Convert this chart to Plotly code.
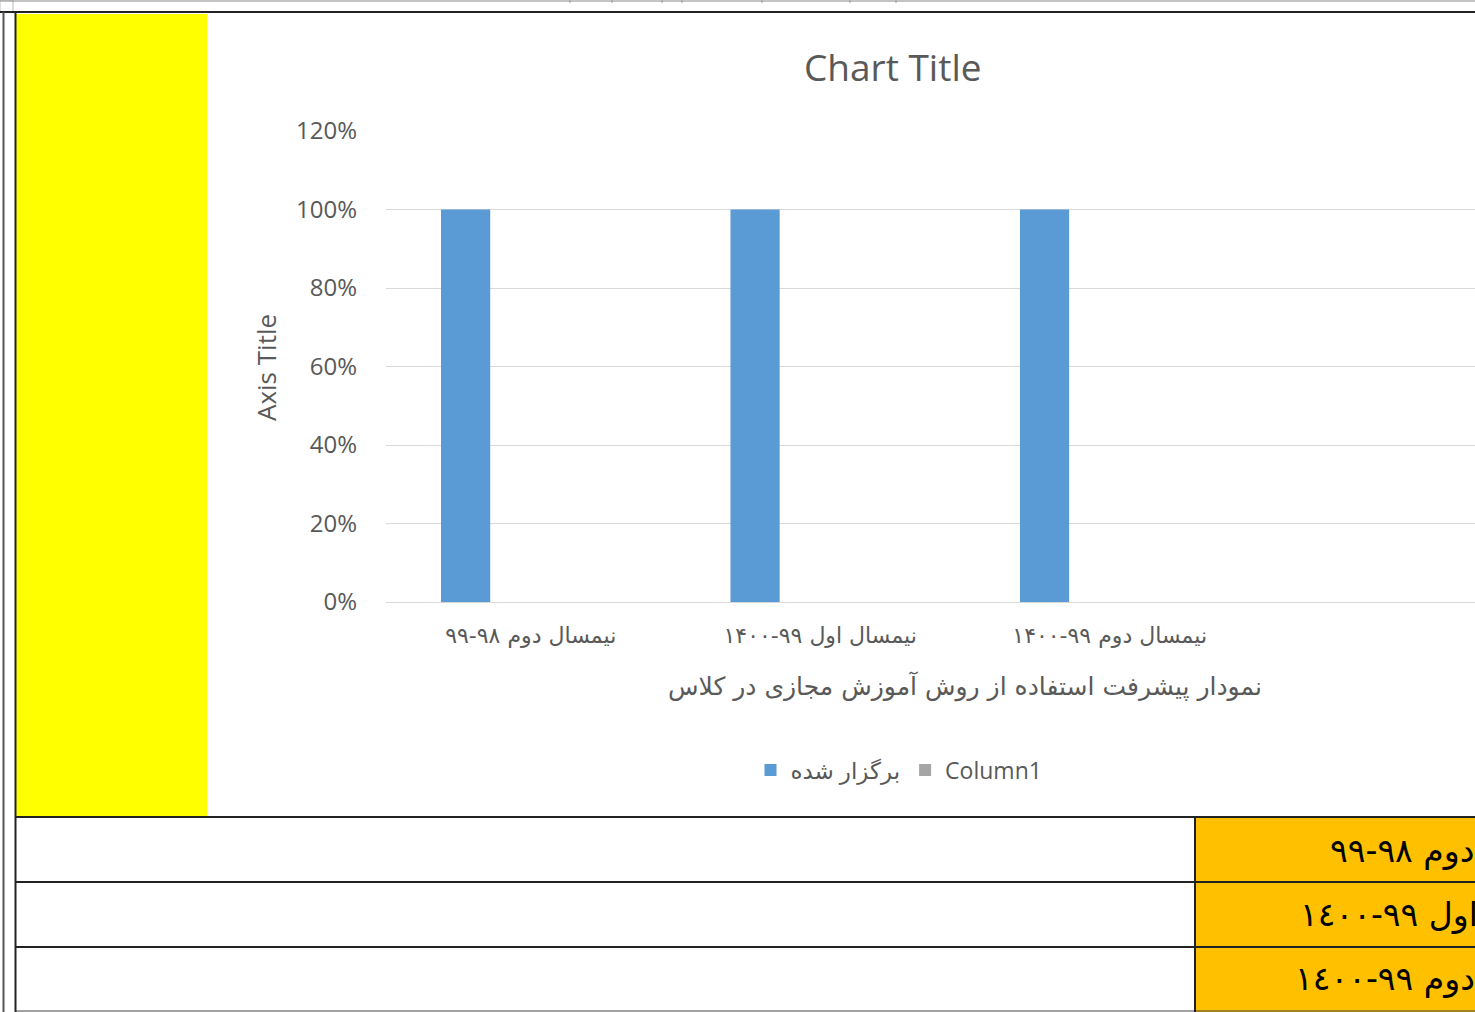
import plotly.graph_objects as go

# ---------------- data ----------------
categories = [
    "\u202Bنیمسال دوم ۹۸-۹۹\u202C",
    "\u202Bنیمسال اول ۹۹-۱۴۰۰\u202C",
    "\u202Bنیمسال دوم ۹۹-۱۴۰۰\u202C",
]
held_values = [1.0, 1.0, 1.0]          # برگزار شده
column1_values = [None, None, None]    # Column1 (empty)
series_names = ["برگزار شده", "Column1"]
y_ticks = [0, 0.2, 0.4, 0.6, 0.8, 1.0, 1.2]

chart_title = "Chart Title"
x_title = "نمودار پیشرفت استفاده از روش آموزش مجازی در کلاس"
y_title = "Axis Title"

# sheet cells to the bottom-right
table_cells = [
    "\u202Bنیمسال دوم ٩٨-٩٩\u202C",
    "\u202Bنیمسال اول ٩٩-١٤٠٠\u202C",
    "\u202Bنیمسال دوم ٩٩-١٤٠٠\u202C",
]

# ---------------- geometry helpers ----------------
W, H = 1475, 1012
def px(x):
    return x / W
def py(y):
    return 1 - y / H

GREY_TXT = "#595959"
LATIN = "'Open Sans', 'DejaVu Sans', sans-serif"
ARABIC = "'DejaVu Sans', sans-serif"

fig = go.Figure()
fig.add_trace(go.Bar(
    x=categories, y=held_values, name=series_names[0],
    marker=dict(color="#5B9BD5", line=dict(width=0)),
    width=0.17, offset=-0.31, showlegend=True,
))
fig.add_trace(go.Bar(
    x=categories, y=column1_values, name=series_names[1],
    marker=dict(color="#A5A5A5", line=dict(width=0)),
    width=0.17, offset=-0.14, showlegend=True,
))

shapes = []
def line(x0, y0, x1, y1, color="#222222", w=2):
    shapes.append(dict(type="line", xref="paper", yref="paper",
                       x0=px(x0), y0=py(y0), x1=px(x1), y1=py(y1),
                       line=dict(color=color, width=w), layer="above"))
def rect(x0, y0, x1, y1, fill, lc=None, lw=0):
    shapes.append(dict(type="rect", xref="paper", yref="paper",
                       x0=px(x0), y0=py(y0), x1=px(x1), y1=py(y1),
                       fillcolor=fill, line=dict(color=lc or fill, width=lw),
                       layer="below"))

# yellow block and orange cells
rect(16, 14, 207, 816, "#FFFF00")
for (y0, y1) in [(818, 881), (883, 946), (948, 1012)]:
    rect(1196, y0, 1480, y1, "#FFC000")
# top-left select-all box
rect(0, 0, 13, 12, "#FFFFFF", "#BBBBBB", 1)
# top lines
line(0, 1, 1475, 1, "#888888", 1)
for xx in [570, 612, 662, 682, 762, 850, 896]:
    line(xx, 0, xx, 3, "#999999", 1)
line(0, 12, 1475, 12, "#222222", 2)
# left lines
line(3.5, 12, 3.5, 1012, "#555555", 2)
line(15.5, 12, 15.5, 1012, "#222222", 2)
# table lines
for yy in [817, 882, 947]:
    line(15, yy, 1475, yy, "#222222", 2)
line(15, 1011, 1475, 1011, "#444444", 1)
line(1195, 817, 1195, 1012, "#222222", 2)

annotations = [
    dict(text=chart_title, x=px(893), y=py(67), xref="paper", yref="paper",
         showarrow=False, xanchor="center", yanchor="middle",
         font=dict(family=LATIN, size=37, color=GREY_TXT)),
    dict(text=x_title, x=px(965), y=py(686), xref="paper", yref="paper",
         showarrow=False, xanchor="center", yanchor="middle",
         font=dict(family=ARABIC, size=25, color=GREY_TXT)),
    dict(text=y_title, x=px(266), y=py(368), xref="paper", yref="paper",
         showarrow=False, xanchor="center", yanchor="middle", textangle=-90,
         font=dict(family=LATIN, size=26, color=GREY_TXT)),
]
for txt, (xl, yc) in zip(table_cells, [(1328, 850), (1298, 914), (1293, 978)]):
    annotations.append(dict(text=txt, x=px(xl), y=py(yc), xref="paper", yref="paper",
                            showarrow=False, xanchor="left", yanchor="middle",
                            font=dict(family=ARABIC, size=33, color="#000000")))

fig.update_layout(
    width=W, height=H, autosize=False,
    margin=dict(l=0, r=0, t=0, b=0, pad=0, autoexpand=False),
    paper_bgcolor="#FFFFFF", plot_bgcolor="rgba(0,0,0,0)",
    barmode="overlay",
    shapes=shapes, annotations=annotations,
    showlegend=True,
    legend=dict(orientation="h", x=px(899), y=py(770), xanchor="center", yanchor="middle",
                font=dict(family=LATIN, size=23, color=GREY_TXT),
                itemwidth=30, bgcolor="rgba(0,0,0,0)", traceorder="normal"),
    xaxis=dict(domain=[px(386), 1.0], range=[-0.5, 3.262], type="category",
               automargin=False,
               showgrid=False, showline=False, zeroline=False, ticks="",
               ticklabelstandoff=18,
               tickfont=dict(family=ARABIC, size=22, color=GREY_TXT), fixedrange=True),
    yaxis=dict(domain=[py(602), py(131)], range=[0, 1.2], tickvals=y_ticks,
               automargin=False,
               tickformat=".0%", showgrid=True, gridcolor="#D9D9D9", gridwidth=1,
               zeroline=True, zerolinecolor="#D9D9D9", zerolinewidth=1,
               showline=False, ticks="", ticklabelstandoff=28,
               tickfont=dict(family=LATIN, size=24, color=GREY_TXT), fixedrange=True),
)

fig.write_html("out.html", config={"displayModeBar": False},
               post_script="document.body.style.margin='0';document.body.style.overflow='hidden';")
